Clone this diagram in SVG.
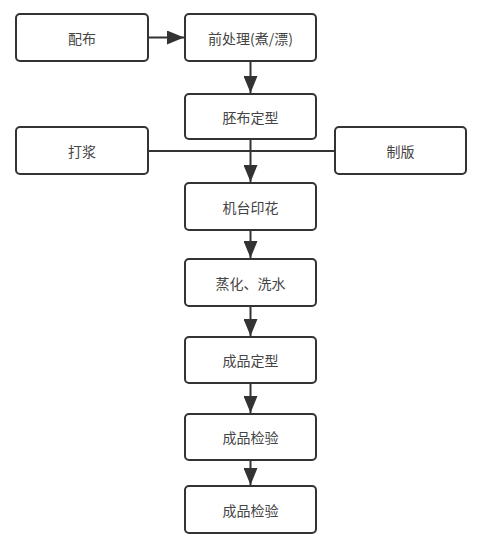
<svg xmlns="http://www.w3.org/2000/svg" width="493" height="543" viewBox="0 0 493 543">
<style>
.box{fill:#fff;stroke:#333;stroke-width:2}
.lbl{font-family:"Noto Sans CJK SC","Liberation Sans",sans-serif;font-size:14px;fill:#444;text-anchor:middle;dominant-baseline:central}
.ln{stroke:#333;stroke-width:2;fill:none}
</style>
<defs>
<marker id="ah" markerWidth="17" markerHeight="14" viewBox="0 0 17 14" refX="17" refY="7" orient="auto" markerUnits="userSpaceOnUse"><path d="M0,0 L17,7 L0,14 Z" fill="#333"/></marker>
</defs>
<rect width="493" height="543" fill="#fff"/>
<g id="connectors">
<line class="ln" x1="148" y1="37.5" x2="184" y2="37.5" marker-end="url(#ah)"/>
<line class="ln" x1="250.5" y1="61" x2="250.5" y2="93" marker-end="url(#ah)"/>
<line class="ln" x1="148" y1="151" x2="335" y2="151"/>
<line class="ln" x1="250.5" y1="139" x2="250.5" y2="182" marker-end="url(#ah)"/>
<line class="ln" x1="250.5" y1="230" x2="250.5" y2="258" marker-end="url(#ah)"/>
<line class="ln" x1="250.5" y1="306" x2="250.5" y2="336" marker-end="url(#ah)"/>
<line class="ln" x1="250.5" y1="383" x2="250.5" y2="413" marker-end="url(#ah)"/>
<line class="ln" x1="250.5" y1="460" x2="250.5" y2="485" marker-end="url(#ah)"/>
</g>
<g id="n1"><rect class="box" x="16" y="14" width="132" height="47" rx="4"/><text class="lbl" x="82" y="37.5">配布</text></g>
<g id="n2"><rect class="box" x="185" y="14" width="131" height="47" rx="4"/><text class="lbl" x="250.5" y="37.5">前处理(煮/漂)</text></g>
<g id="n3"><rect class="box" x="185" y="94" width="131" height="45" rx="4"/><text class="lbl" x="250.5" y="116.5">胚布定型</text></g>
<g id="n4"><rect class="box" x="16" y="127" width="132" height="47" rx="4"/><text class="lbl" x="82" y="150.5">打浆</text></g>
<g id="n5"><rect class="box" x="335" y="127" width="131" height="47" rx="4"/><text class="lbl" x="400.5" y="150.5">制版</text></g>
<g id="n6"><rect class="box" x="185" y="183" width="131" height="47" rx="4"/><text class="lbl" x="250.5" y="206.5">机台印花</text></g>
<g id="n7"><rect class="box" x="185" y="259" width="131" height="47" rx="4"/><text class="lbl" x="250.5" y="282.5">蒸化、洗水</text></g>
<g id="n8"><rect class="box" x="185" y="337" width="131" height="46" rx="4"/><text class="lbl" x="250.5" y="360">成品定型</text></g>
<g id="n9"><rect class="box" x="185" y="414" width="131" height="46" rx="4"/><text class="lbl" x="250.5" y="437">成品检验</text></g>
<g id="n10"><rect class="box" x="185" y="486" width="131" height="47" rx="4"/><text class="lbl" x="250.5" y="509.5">成品检验</text></g>
</svg>
